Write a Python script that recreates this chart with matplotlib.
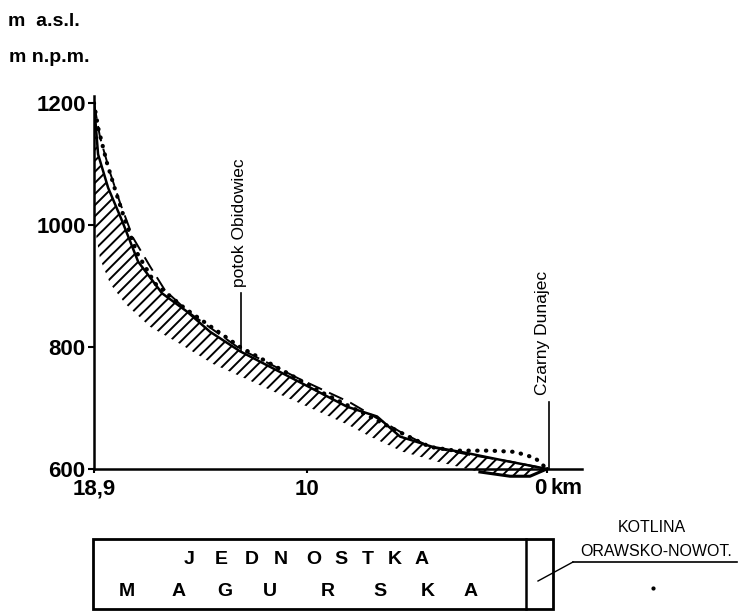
import matplotlib
matplotlib.use("Agg")
import matplotlib.pyplot as plt
from matplotlib.patches import Rectangle

plt.rcParams["font.family"] = ["Liberation Sans", "DejaVu Sans"]
plt.rcParams["hatch.linewidth"] = 1.4

# ── data (km from mouth, elevation m a.s.l.) ─────────────────────────────────
km_solid = [18.9, 18.73, 18.31, 17.73, 17.06, 16.06, 15.02, 14.06, 12.81, 11.14,
            9.76, 8.34, 7.09, 6.13, 4.76, 3.34, 1.96, 0.0]
el_solid = [1200, 1116, 1061, 1007, 940, 888, 858, 825, 793, 759,
            731, 702, 686, 653, 636, 626, 615, 600]

km_dash = [18.9, 18.65, 18.23, 17.81, 17.27, 16.56, 15.94, 14.89, 12.81, 10.30,
           8.22, 6.13, 4.88, 3.21, 1.54, 0.0]
el_dash = [1200, 1144, 1086, 1036, 979, 932, 893, 855, 797, 747,
           709, 661, 636, 623, 612, 600]

km_dot = [18.9, 18.73, 18.36, 17.98, 17.6, 17.1, 16.35, 15.1, 12.81, 11.14,
          9.47, 7.8, 6.13, 4.88, 3.84, 2.38, 1.34, 0.5, 0.0]
el_dot = [1200, 1160, 1102, 1053, 1007, 954, 904, 863, 800, 764,
          727, 694, 660, 636, 630, 630, 628, 618, 600]

# lower edge of the hatched band
km_low = [18.9, 18.86, 18.65, 18.23, 17.6, 16.56, 15.31, 13.93, 12.52, 11.14,
          9.76, 8.34, 7.38, 6.01, 4.59, 2.8, 1.54, 0.71, 0.0]
el_low = [1111, 995, 945, 904, 871, 833, 805, 772, 747, 722,
          698, 673, 653, 628, 612, 595, 588, 588, 600]

y_ticks = [600, 800, 1000, 1200]
x_ticks = [18.9, 10, 0]
x_labels = ["18,9", "10", ""]

unit_top = list("JEDNOSTKA")
unit_top_x = [189, 221, 252, 281, 314, 341, 368, 395, 422]
unit_bot = list("MAGURSKA")
unit_bot_x = [127, 179, 225, 270, 328, 380, 428, 471]

W, H = 739, 613
fig = plt.figure(figsize=(W / 100, H / 100), dpi=100)
fig.patch.set_facecolor("white")

ax = fig.add_axes([94 / W, 0.2052, 488 / W, 0.6416])
ax.set_xlim(18.9, -1.46)
ax.set_ylim(570, 1215)

# hatched band
band_x = km_solid + km_low[::-1]
band_y = el_solid + el_low[::-1]
ax.fill(band_x, band_y, facecolor="none", edgecolor="black", hatch="///",
        linewidth=0, zorder=2)
ax.plot(km_low[-4:], el_low[-4:], color="black", lw=2.2, zorder=3)

ax.plot(km_solid, el_solid, color="black", lw=1.8, zorder=4)
ax.plot(km_dash, el_dash, color="black", lw=1.4, ls=(0, (8, 4)), zorder=4)
ax.plot(km_dot, el_dot, color="black", lw=3.0, ls=(0, (0.1, 2.0)),
        dash_capstyle="round", zorder=4)

# axes styling
for s in ("top", "right"):
    ax.spines[s].set_visible(False)
ax.spines["left"].set_bounds(600, 1212)
ax.spines["bottom"].set_position(("data", 600))
ax.spines["left"].set_linewidth(1.8)
ax.spines["bottom"].set_linewidth(1.8)
ax.set_yticks(y_ticks)
ax.set_yticklabels([str(v) for v in y_ticks])
ax.set_xticks(x_ticks)
ax.set_xticklabels(x_labels)
ax.tick_params(axis="y", length=4, width=1.5, pad=2, labelsize=16)
ax.tick_params(axis="x", length=3, width=1.5, pad=4, labelsize=16)
for t in ax.get_xticklabels() + ax.get_yticklabels():
    t.set_fontweight("bold")
ax.set_facecolor("none")

# river labels with pointer lines
ax.plot([12.78, 12.78], [793, 888], color="black", lw=1.2)
ax.text(12.85, 898, "potok Obidowiec", rotation=90, ha="center", va="bottom",
        fontsize=12.5)
ax.plot([-0.08, -0.08], [600, 709], color="black", lw=1.2)
ax.text(0.17, 722, "Czarny Dunajec", rotation=90, ha="center", va="bottom",
        fontsize=12.5)

# ── overlay in pixel coordinates ─────────────────────────────────────────────
ov = fig.add_axes([0, 0, 1, 1])
ov.set_xlim(0, W)
ov.set_ylim(H, 0)
ov.axis("off")
ov.patch.set_alpha(0)

ov.text(8, 22, "m  a.s.l.", fontsize=14, fontweight="bold", va="center")
ov.text(9, 57, "m n.p.m.", fontsize=14, fontweight="bold", va="center")
ov.text(540, 489, "0", fontsize=16, fontweight="bold", ha="center", va="center")
ov.text(550, 489, "km", fontsize=16, fontweight="bold", ha="left", va="center")

ov.add_patch(Rectangle((93, 539), 460, 70, facecolor="none", edgecolor="black",
                       lw=2.0))
ov.plot([526, 526], [539, 609], color="black", lw=1.8)
for ch, x in zip(unit_top, unit_top_x):
    ov.text(x, 560, ch, fontsize=14, fontweight="bold", ha="center", va="center")
for ch, x in zip(unit_bot, unit_bot_x):
    ov.text(x, 592, ch, fontsize=14, fontweight="bold", ha="center", va="center")

ov.text(652, 528, "KOTLINA", fontsize=11.5, ha="center", va="center")
ov.text(656, 551, "ORAWSKO-NOWOT.", fontsize=11.5, ha="center", va="center")
ov.plot([573, 737], [562, 562], color="black", lw=1.2)
ov.plot([538, 573], [581, 562], color="black", lw=1.0)
ov.plot([653], [588], marker="o", ms=2, color="black")

fig.savefig("out.png", dpi=100, facecolor="white")
